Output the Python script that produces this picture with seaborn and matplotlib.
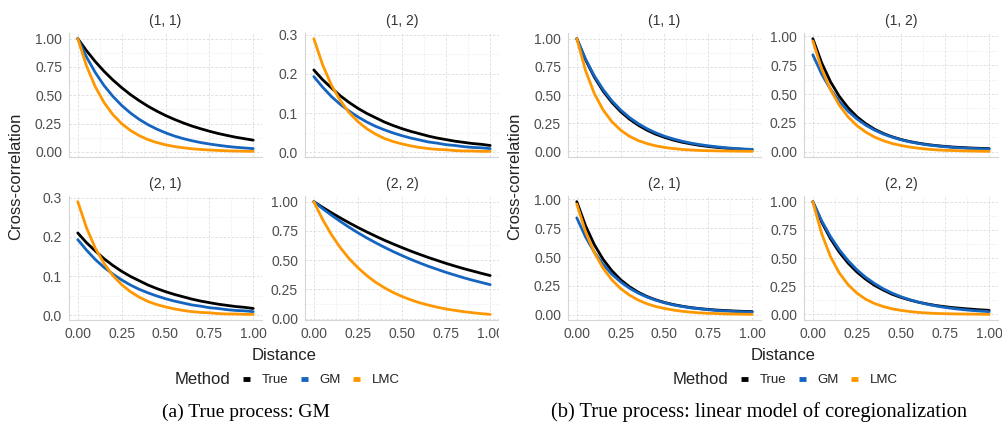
import pandas as pd
import matplotlib
matplotlib.use("Agg")
import matplotlib.pyplot as plt
from matplotlib.lines import Line2D
from matplotlib.patches import Rectangle
import seaborn as sns

# ---------------- data ----------------
distance = [0.00, 0.05, 0.10, 0.15, 0.20, 0.25, 0.30, 0.35, 0.40, 0.45, 0.50,
            0.55, 0.60, 0.65, 0.70, 0.75, 0.80, 0.85, 0.90, 0.95, 1.00]
methods = ["True", "GM", "LMC"]
method_colors = ["#000000", "#1565C0", "#FF9800"]
facet_titles = ["(1, 1)", "(1, 2)", "(2, 1)", "(2, 2)"]

# (a) True process: GM
a_11_true = [1.000, 0.893, 0.797, 0.711, 0.635, 0.567, 0.506, 0.452, 0.403, 0.360, 0.321,
             0.287, 0.256, 0.228, 0.204, 0.182, 0.162, 0.145, 0.129, 0.116, 0.103]
a_11_gm = [1.000, 0.837, 0.700, 0.585, 0.490, 0.410, 0.343, 0.287, 0.240, 0.201, 0.168,
           0.140, 0.117, 0.098, 0.082, 0.069, 0.058, 0.048, 0.040, 0.034, 0.028]
a_11_lmc = [1.000, 0.758, 0.574, 0.435, 0.329, 0.249, 0.189, 0.143, 0.108, 0.082, 0.062,
            0.047, 0.036, 0.027, 0.021, 0.016, 0.012, 0.009, 0.007, 0.005, 0.004]
a_12_true = [0.210, 0.185, 0.164, 0.144, 0.127, 0.112, 0.099, 0.088, 0.077, 0.068, 0.060,
             0.053, 0.047, 0.041, 0.036, 0.032, 0.028, 0.025, 0.022, 0.020, 0.017]
a_12_gm = [0.193, 0.166, 0.142, 0.122, 0.105, 0.090, 0.077, 0.066, 0.057, 0.049, 0.042,
           0.036, 0.031, 0.026, 0.023, 0.019, 0.017, 0.014, 0.012, 0.011, 0.009]
a_12_lmc = [0.290, 0.223, 0.171, 0.132, 0.101, 0.078, 0.060, 0.046, 0.035, 0.027, 0.021,
            0.016, 0.012, 0.009, 0.007, 0.006, 0.004, 0.003, 0.003, 0.002, 0.002]
a_21_true = [0.210, 0.185, 0.164, 0.144, 0.127, 0.112, 0.099, 0.088, 0.077, 0.068, 0.060,
             0.053, 0.047, 0.041, 0.036, 0.032, 0.028, 0.025, 0.022, 0.020, 0.017]
a_21_gm = [0.193, 0.166, 0.142, 0.122, 0.105, 0.090, 0.077, 0.066, 0.057, 0.049, 0.042,
           0.036, 0.031, 0.026, 0.023, 0.019, 0.017, 0.014, 0.012, 0.011, 0.009]
a_21_lmc = [0.290, 0.223, 0.171, 0.132, 0.101, 0.078, 0.060, 0.046, 0.035, 0.027, 0.021,
            0.016, 0.012, 0.009, 0.007, 0.006, 0.004, 0.003, 0.003, 0.002, 0.002]
a_22_true = [1.000, 0.951, 0.905, 0.861, 0.819, 0.779, 0.741, 0.705, 0.670, 0.638, 0.607,
             0.577, 0.549, 0.522, 0.497, 0.472, 0.449, 0.427, 0.407, 0.387, 0.368]
a_22_gm = [1.000, 0.940, 0.884, 0.831, 0.781, 0.734, 0.690, 0.649, 0.610, 0.573, 0.539,
           0.506, 0.476, 0.447, 0.421, 0.395, 0.372, 0.349, 0.328, 0.309, 0.290]
a_22_lmc = [1.000, 0.847, 0.717, 0.607, 0.513, 0.435, 0.368, 0.311, 0.264, 0.223, 0.189,
            0.160, 0.135, 0.115, 0.097, 0.082, 0.070, 0.059, 0.050, 0.042, 0.036]

# (b) True process: linear model of coregionalization
b_11_true = [1.000, 0.812, 0.659, 0.535, 0.435, 0.353, 0.287, 0.233, 0.189, 0.153, 0.125,
             0.101, 0.082, 0.067, 0.054, 0.044, 0.036, 0.029, 0.024, 0.019, 0.016]
b_11_gm = [1.000, 0.819, 0.670, 0.549, 0.449, 0.368, 0.301, 0.247, 0.202, 0.165, 0.135,
           0.111, 0.091, 0.074, 0.061, 0.050, 0.041, 0.033, 0.027, 0.022, 0.018]
b_11_lmc = [1.000, 0.717, 0.513, 0.368, 0.264, 0.189, 0.135, 0.097, 0.070, 0.050, 0.036,
            0.026, 0.018, 0.013, 0.009, 0.007, 0.005, 0.004, 0.003, 0.002, 0.001]
b_12_true = [0.980, 0.771, 0.607, 0.480, 0.381, 0.303, 0.243, 0.195, 0.158, 0.129, 0.106,
             0.088, 0.074, 0.062, 0.053, 0.046, 0.040, 0.036, 0.032, 0.029, 0.027]
b_12_gm = [0.840, 0.674, 0.542, 0.436, 0.351, 0.284, 0.230, 0.187, 0.153, 0.126, 0.103,
           0.085, 0.071, 0.059, 0.051, 0.043, 0.036, 0.032, 0.028, 0.025, 0.022]
b_12_lmc = [0.960, 0.719, 0.539, 0.403, 0.302, 0.226, 0.170, 0.127, 0.095, 0.071, 0.054,
            0.040, 0.030, 0.022, 0.016, 0.012, 0.010, 0.007, 0.006, 0.004, 0.003]
b_21_true = [0.980, 0.771, 0.607, 0.480, 0.381, 0.303, 0.243, 0.195, 0.158, 0.129, 0.106,
             0.088, 0.074, 0.062, 0.053, 0.046, 0.040, 0.036, 0.032, 0.029, 0.027]
b_21_gm = [0.840, 0.674, 0.542, 0.436, 0.351, 0.284, 0.230, 0.187, 0.153, 0.126, 0.103,
           0.085, 0.071, 0.059, 0.051, 0.043, 0.036, 0.032, 0.028, 0.025, 0.022]
b_21_lmc = [0.960, 0.719, 0.539, 0.403, 0.302, 0.226, 0.170, 0.127, 0.095, 0.071, 0.054,
            0.040, 0.030, 0.022, 0.016, 0.012, 0.010, 0.007, 0.006, 0.004, 0.003]
b_22_true = [1.000, 0.819, 0.672, 0.552, 0.455, 0.376, 0.312, 0.258, 0.216, 0.179, 0.151,
             0.128, 0.108, 0.093, 0.079, 0.069, 0.060, 0.053, 0.047, 0.041, 0.037]
b_22_gm = [1.000, 0.831, 0.691, 0.574, 0.477, 0.396, 0.329, 0.274, 0.227, 0.189, 0.157,
           0.131, 0.109, 0.090, 0.075, 0.062, 0.052, 0.043, 0.036, 0.030, 0.025]
b_22_lmc = [1.000, 0.717, 0.513, 0.368, 0.264, 0.189, 0.135, 0.097, 0.070, 0.050, 0.036,
            0.026, 0.018, 0.013, 0.009, 0.007, 0.005, 0.004, 0.003, 0.002, 0.001]

x_ticks = [0.0, 0.25, 0.5, 0.75, 1.0]
x_tick_labels = ["0.00", "0.25", "0.50", "0.75", "1.00"]
y_ticks_unit = [0.0, 0.25, 0.5, 0.75, 1.0]
y_labels_unit = ["0.00", "0.25", "0.50", "0.75", "1.00"]
y_ticks_small = [0.0, 0.1, 0.2, 0.3]
y_labels_small = ["0.0", "0.1", "0.2", "0.3"]

x_label = "Distance"
y_label = "Cross-correlation"
legend_title = "Method"
captions = ["(a) True process: GM",
            "(b) True process: linear model of coregionalization"]

# ---------------- style ----------------
sns.set_theme(style="white")
plt.rcParams["font.family"] = ["Liberation Sans", "DejaVu Sans"]

W, H = 1003, 428
fig = plt.figure(figsize=(W / 100, H / 100), dpi=100)
fig.patch.set_facecolor("white")


def px_axes(l, r, t, b):
    return fig.add_axes([l / W, 1 - b / H, (r - l) / W, (b - t) / H])


palette = dict(zip(methods, method_colors))
GRID_MAJ = "#DCDCDC"
GRID_MIN = "#EBEBEB"
TXT = "#4D4D4D"


def draw_facet(ax, vals, title, yt, yl, show_x):
    n = len(distance)
    df = pd.DataFrame({
        "Distance": distance * 3,
        "Cross-correlation": list(vals[0]) + list(vals[1]) + list(vals[2]),
        "Method": [methods[0]] * n + [methods[1]] * n + [methods[2]] * n,
    })
    sns.lineplot(data=df, x="Distance", y="Cross-correlation", hue="Method",
                 hue_order=methods, palette=palette, linewidth=2.0,
                 legend=False, errorbar=None, ax=ax)
    ax.set_xlabel("")
    ax.set_ylabel("")
    ax.set_xticks(x_ticks)
    ax.set_xticks([(x_ticks[i] + x_ticks[i + 1]) / 2 for i in range(len(x_ticks) - 1)], minor=True)
    ax.set_yticks(yt)
    ax.set_yticks([(yt[i] + yt[i + 1]) / 2 for i in range(len(yt) - 1)], minor=True)
    ax.set_yticklabels(yl)
    if show_x:
        ax.set_xticklabels(x_tick_labels)
    else:
        ax.set_xticklabels([])
    ax.grid(True, which="major", color=GRID_MAJ, linestyle=(0, (3, 2)), linewidth=0.6)
    ax.grid(True, which="minor", color=GRID_MIN, linestyle=(0, (3, 2)), linewidth=0.5)
    ax.set_axisbelow(True)
    ax.tick_params(which="both", length=0, labelsize=10, labelcolor=TXT)
    ax.tick_params(axis="y", pad=5)
    ax.tick_params(axis="x", pad=5)
    for s in ["top", "right"]:
        ax.spines[s].set_visible(False)
    for s in ["left", "bottom"]:
        ax.spines[s].set_visible(True)
        ax.spines[s].set_color("#D5D5D5")
        ax.spines[s].set_linewidth(0.8)
    ax.set_title(title, fontsize=10, color="#333333", pad=6)


rows = [(33, 157), (196, 320)]
panels = [
    {
        "cols": [(69, 262), (305, 499)],
        "data": [(a_11_true, a_11_gm, a_11_lmc), (a_12_true, a_12_gm, a_12_lmc),
                 (a_21_true, a_21_gm, a_21_lmc), (a_22_true, a_22_gm, a_22_lmc)],
        "yt": [(y_ticks_unit, y_labels_unit), (y_ticks_small, y_labels_small),
               (y_ticks_small, y_labels_small), (y_ticks_unit, y_labels_unit)],
        "ylab_x": 16, "legend_x": 175, "caption_x": 246, "caption_size": 14,
    },
    {
        "cols": [(568, 761), (804, 998)],
        "data": [(b_11_true, b_11_gm, b_11_lmc), (b_12_true, b_12_gm, b_12_lmc),
                 (b_21_true, b_21_gm, b_21_lmc), (b_22_true, b_22_gm, b_22_lmc)],
        "yt": [(y_ticks_unit, y_labels_unit)] * 4,
        "ylab_x": 515, "legend_x": 673, "caption_x": 759, "caption_size": 14.8,
    },
]

for p_i, p in enumerate(panels):
    k = 0
    for r_i, (t, b) in enumerate(rows):
        for c_i, (l, r) in enumerate(p["cols"]):
            ax = px_axes(l, r, t, b)
            draw_facet(ax, p["data"][k], facet_titles[k], p["yt"][k][0], p["yt"][k][1],
                       show_x=(r_i == 1))
            k += 1
    l0 = p["cols"][0][0]
    r1 = p["cols"][1][1]
    fig.text(p["ylab_x"] / W, 1 - 176 / H, y_label, rotation=90, ha="center", va="center",
             fontsize=12, color="#222222")
    fig.text((l0 + r1) / 2 / W, 1 - 355 / H, x_label, ha="center", va="center",
             fontsize=12, color="#222222")
    fig.text(p["legend_x"] / W, 1 - 380 / H, legend_title, ha="left", va="center",
             fontsize=12, color="#222222")
    handles = [Line2D([], [], color=c, lw=3.5, solid_capstyle="butt") for c in method_colors]
    fig.legend(handles, methods, loc="center left",
               bbox_to_anchor=((p["legend_x"] + 68) / W, 1 - 380 / H),
               ncol=3, frameon=False, fontsize=9.5, handlelength=0.55,
               handletextpad=0.9, columnspacing=0.9, borderpad=0, borderaxespad=0,
               labelcolor="#222222")
    fig.text(p["caption_x"] / W, 1 - 412 / H, captions[p_i], ha="center", va="center",
             fontsize=p["caption_size"], family=["Liberation Serif", "DejaVu Serif"],
             color="black")

# the left sub-figure is cropped at its right edge in the original
fig.add_artist(Rectangle((499.5 / W, 0.2), 5 / W, 0.8, transform=fig.transFigure,
                         facecolor="white", edgecolor="none", zorder=10))

fig.savefig("out.png", dpi=100, facecolor="white")
